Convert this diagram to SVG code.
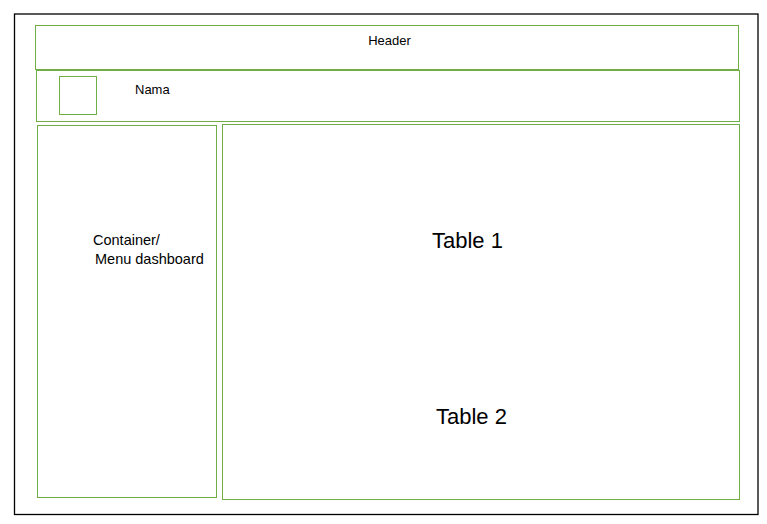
<svg xmlns="http://www.w3.org/2000/svg" width="767" height="524" viewBox="0 0 767 524">
<style>
.box{fill:none;stroke:#70ad47;stroke-width:1}
.t{font-family:"Liberation Sans",Arial,sans-serif;fill:#000}
</style>
<rect width="767" height="524" fill="#fff"/>
<g id="frame"><rect x="14.5" y="14" width="743.5" height="500.5" fill="none" stroke="#000" stroke-width="1.3"/></g>
<g id="header"><rect class="box" x="35.5" y="25.5" width="703" height="44"/><text class="t" x="389.5" y="45" font-size="13" text-anchor="middle">Header</text></g>
<g id="nama-bar"><rect class="box" x="36.5" y="70.5" width="703" height="51"/><text class="t" x="135" y="94" font-size="13">Nama</text></g>
<g id="avatar"><rect class="box" x="59.5" y="76.5" width="37" height="38"/></g>
<g id="sidebar"><rect class="box" x="37.5" y="125.5" width="179" height="372"/><text class="t" x="93" y="245" font-size="14.5">Container/</text><text class="t" x="95" y="264" font-size="14.5">Menu dashboard</text></g>
<g id="main"><rect class="box" x="222.5" y="124.5" width="517" height="375"/><text class="t" x="467.5" y="248" font-size="22" text-anchor="middle">Table 1</text><text class="t" x="471.5" y="424" font-size="22" text-anchor="middle">Table 2</text></g>
<g id="connectors"></g>
</svg>
